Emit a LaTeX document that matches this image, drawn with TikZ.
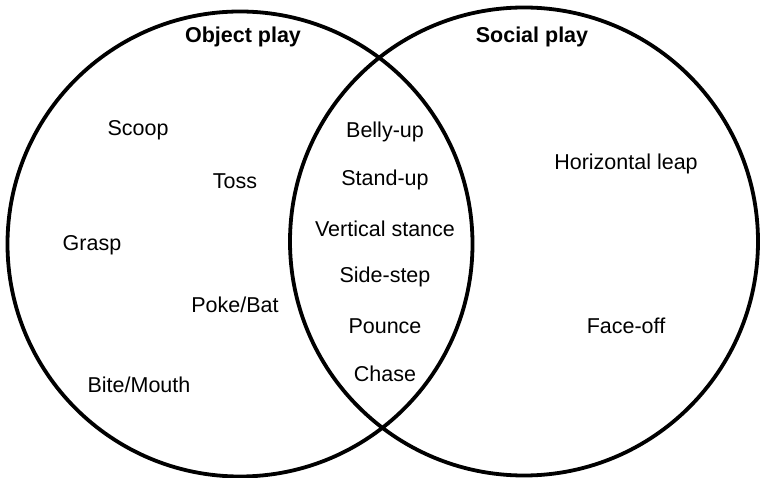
\documentclass[tikz,border=0pt]{standalone}
\usepackage{fontspec}
\setmainfont{Liberation Sans}
\begin{document}
\begin{tikzpicture}[x=1pt,y=-1pt,
  ring/.style={draw=black,line width=3.8pt},
  item/.style={inner sep=0pt,font=\fontsize{21.5}{25}\selectfont},
  title/.style={inner sep=0pt,font=\fontsize{21.5}{25}\selectfont\bfseries}]
\useasboundingbox (0,0) rectangle (761,478);
% the two sets
\draw[ring] (240,244) circle[radius=232.5];
\draw[ring] (524,241.5) circle[radius=234];
% set titles
\node[title] (objt) at (243,37) {Object play};
\node[title] (soct) at (532,37) {Social play};
% object play only
\node[item] (scoop) at (138,130) {Scoop};
\node[item] (toss) at (235,181) {Toss};
\node[item] (grasp) at (92,245) {Grasp};
\node[item] (poke) at (235,305) {Poke/Bat};
\node[item] (bite) at (139,385) {Bite/Mouth};
% shared behaviours
\node[item] (belly) at (385,132) {Belly-up};
\node[item] (stand) at (385,180) {Stand-up};
\node[item] (vert) at (385,229) {Vertical stance};
\node[item] (side) at (385,277) {Side-step};
\node[item] (pounce) at (385,326) {Pounce};
\node[item] (chase) at (385,374) {Chase};
% social play only
\node[item] (leap) at (626,164) {Horizontal leap};
\node[item] (face) at (626,326) {Face-off};
\end{tikzpicture}
\end{document}
